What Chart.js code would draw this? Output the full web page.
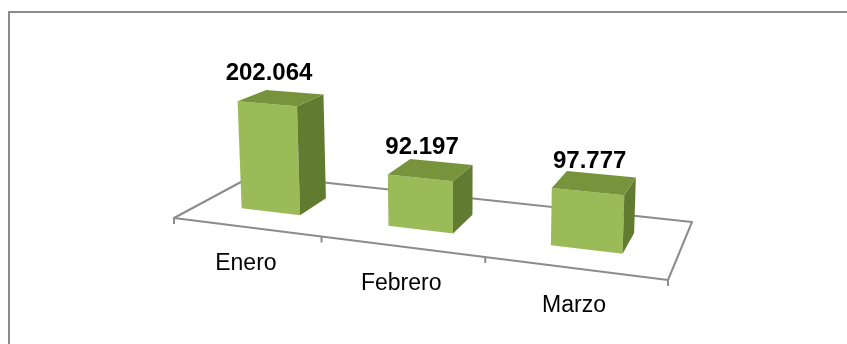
<!DOCTYPE html>
<html>
<head>
<meta charset="utf-8">
<script src="https://cdn.jsdelivr.net/npm/chart.js@4.4.0/dist/chart.umd.min.js"></script>
<style>
  html, body { margin: 0; padding: 0; background: #fff; }
  #wrap { position: relative; width: 847px; height: 344px; }
</style>
</head>
<body>
<div id="wrap"><canvas id="c"></canvas></div>
<script>
const months = ['Enero', 'Febrero', 'Marzo'];
const totals = [202064, 92197, 97777];
const valueMax = 250000;

// floor of the 3D plot: front-left, front-right, back-right, back-left
const floor = [[174, 218], [668, 280], [692, 222], [254, 175]];
const columnDepth = [0.31, 0.68];   // front and back of each column, 0..1 into the floor
const heightScale = 136;            // px for the full value range at unit depth
const plumbX = 460, plumbLean = 0.000175; // verticals spread slightly towards the top
const faceFront = '#9bbb59', faceTop = '#77933c', faceSide = '#617b31';
const lineGrey = '#8c8c8c';

// square -> quad perspective mapping, with height lifted (almost) straight up
function makeProjection(p) {
  const [x0, y0] = p[0], [x1, y1] = p[1], [x2, y2] = p[2], [x3, y3] = p[3];
  const dx1 = x1 - x2, dx2 = x3 - x2, dx3 = x0 - x1 + x2 - x3;
  const dy1 = y1 - y2, dy2 = y3 - y2, dy3 = y0 - y1 + y2 - y3;
  const det = dx1 * dy2 - dx2 * dy1;
  const g = (dx3 * dy2 - dx2 * dy3) / det, h = (dx1 * dy3 - dx3 * dy1) / det;
  const a = x1 - x0 + g * x1, b = x3 - x0 + h * x3;
  const d = y1 - y0 + g * y1, e = y3 - y0 + h * y3;
  return (u, v, z) => {
    const w = g * u + h * v + 1;
    const x = (a * u + b * v + x0) / w, y = (d * u + e * v + y0) / w;
    const lift = (z || 0) * heightScale / w;
    return [x + (x - plumbX) * lift * plumbLean, y - lift];
  };
}

const fmt = n => String(n).replace(/\B(?=(\d{3})+(?!\d))/g, '.');

function poly(ctx, pts, fill) {
  ctx.beginPath();
  pts.forEach(([x, y], i) => i ? ctx.lineTo(x, y) : ctx.moveTo(x, y));
  ctx.closePath();
  ctx.fillStyle = fill;
  ctx.fill();
}

const box3d = {
  id: 'box3d',
  beforeDraw(chart) {
    const ctx = chart.ctx;
    ctx.save();
    ctx.strokeStyle = lineGrey;
    ctx.lineWidth = 2;
    ctx.strokeRect(9, 12, 900, 400);
    ctx.restore();
  },
  afterDatasetsDraw(chart) {
    const { ctx, chartArea: area } = chart;
    const P = makeProjection(floor);
    const n = chart.data.labels.length;

    ctx.save();
    // floor outline and ticks
    ctx.strokeStyle = lineGrey;
    ctx.lineWidth = 2;
    ctx.lineJoin = 'round';
    ctx.beginPath();
    floor.forEach(([x, y], i) => i ? ctx.lineTo(x, y) : ctx.moveTo(x, y));
    ctx.closePath();
    ctx.stroke();
    ctx.beginPath();
    for (let i = 0; i <= n; i++) {
      const [x, y] = P(i / n, 0);
      ctx.moveTo(x, y);
      ctx.lineTo(x, y + 6);
    }
    ctx.stroke();

    // columns
    const [v0, v1] = columnDepth;
    const meta = chart.getDatasetMeta(0);
    meta.data.forEach((bar, i) => {
      const u0 = (bar.x - bar.width / 2 - area.left) / area.width;
      const u1 = (bar.x + bar.width / 2 - area.left) / area.width;
      const z = (bar.base - bar.y) / area.height;
      poly(ctx, [P(u0, v0, 0), P(u1, v0, 0), P(u1, v0, z), P(u0, v0, z)], faceFront);
      poly(ctx, [P(u1, v0, 0), P(u1, v1, 0), P(u1, v1, z), P(u1, v0, z)], faceSide);
      poly(ctx, [P(u0, v0, z), P(u1, v0, z), P(u1, v1, z), P(u0, v1, z)], faceTop);

      const [tx, ty] = P((u0 + u1) / 2, v0, z);
      ctx.fillStyle = '#000';
      ctx.font = 'bold 24px "Liberation Sans", Arial, sans-serif';
      ctx.textAlign = 'center';
      ctx.textBaseline = 'middle';
      ctx.fillText(fmt(chart.data.datasets[0].data[i]), tx + 2, ty - 30);
    });

    // category names under the front edge
    ctx.font = '23px "Liberation Sans", Arial, sans-serif';
    ctx.fillStyle = '#000';
    ctx.textAlign = 'center';
    ctx.textBaseline = 'middle';
    chart.data.labels.forEach((label, i) => {
      const [x, y] = P((i + 0.5) / n, 0);
      ctx.fillText(label, x, y + 37);
    });
    ctx.restore();
  }
};

new Chart(document.getElementById('c'), {
  type: 'bar',
  data: {
    labels: months,
    datasets: [{
      data: totals,
      backgroundColor: 'rgba(0,0,0,0)',
      borderWidth: 0,
      barPercentage: 0.41,
      categoryPercentage: 1.0
    }]
  },
  options: {
    responsive: true,
    maintainAspectRatio: false,
    animation: false,
    layout: { padding: 0 },
    plugins: { legend: { display: false }, tooltip: { enabled: false } },
    scales: {
      x: { display: false },
      y: { display: false, min: 0, max: valueMax }
    }
  },
  plugins: [box3d]
});
</script>
</body>
</html>
